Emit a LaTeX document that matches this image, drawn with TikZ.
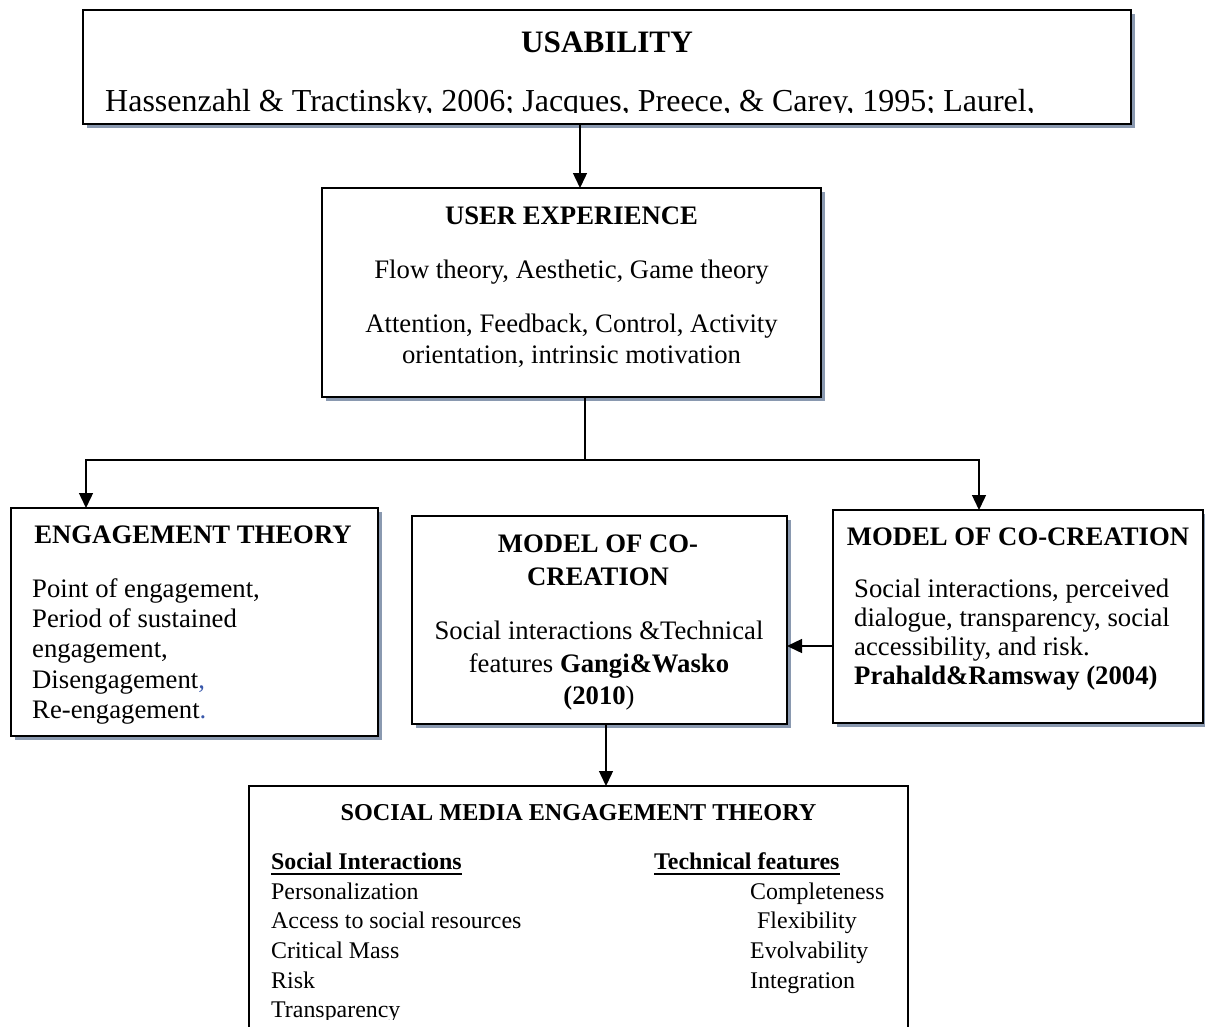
\documentclass[tikz,border=0pt]{standalone}
\usepackage{fontspec}
\setmainfont{Liberation Serif}
\usetikzlibrary{arrows.meta,shadows}
\definecolor{shad}{RGB}{138,153,176}
\definecolor{punct}{RGB}{56,87,170}
\tikzset{
  box/.style={draw=black, line width=2.2pt, fill=white, inner sep=0pt, outer sep=0pt, rectangle},
  shbox/.style={box, drop shadow={shadow xshift=3.5pt, shadow yshift=-3.5pt, fill=shad, opacity=1}},
  head/.style={anchor=base, inner sep=0pt, font=\fontsize{26.7}{31}\selectfont\bfseries},
  bodyc/.style={anchor=base, inner sep=0pt, font=\fontsize{26.7}{31}\selectfont},
  bodyl/.style={anchor=base west, inner sep=0pt, font=\fontsize{26.7}{31}\selectfont},
  smallt/.style={anchor=base west, inner sep=0pt, font=\fontsize{23.9}{28}\selectfont},
  smallh/.style={anchor=base west, inner sep=0pt, font=\fontsize{23.9}{28}\selectfont\bfseries},
  arr/.style={line width=1.4pt, -{Triangle[length=15pt,width=14pt]}},
  conn/.style={line width=1.2pt},
  uline/.style={line width=1.5pt}
}
\begin{document}
\begin{tikzpicture}[x=1pt,y=-1pt]
\clip (0,0) rectangle (1205,1026);
\fill[white] (0,0) rectangle (1205,1026);

% ---------- USABILITY ----------
\node[shbox, minimum width=1048pt, minimum height=114pt] (us) at (607,67) {};
\node[anchor=base, inner sep=0pt, font=\fontsize{31.2}{36}\selectfont\bfseries] (ust) at (607,52) {USABILITY};
\begin{scope}
  \clip (83,10) rectangle (1131,112.5);
  \node[anchor=base west, inner sep=0pt, font=\fontsize{32}{36}\selectfont] (usc) at (105,111)
    {Hassenzahl \& Tractinsky, 2006; Jacques, Preece, \& Carey, 1995; Laurel,};
\end{scope}

% ---------- USER EXPERIENCE ----------
\node[shbox, minimum width=499pt, minimum height=209pt] (ux) at (571.5,292.5) {};
\node[head] (uxt) at (571.5,224) {USER EXPERIENCE};
\node[bodyc] (ux1) at (571.5,278) {Flow theory, Aesthetic, Game theory};
\node[bodyc] (ux2) at (571.5,332) {Attention, Feedback, Control, Activity};
\node[bodyc] (ux3) at (571.5,363) {orientation, intrinsic motivation};

% ---------- ENGAGEMENT THEORY ----------
\node[shbox, minimum width=367pt, minimum height=228pt] (eng) at (194.5,622) {};
\node[head] (engt) at (193,543) {ENGAGEMENT THEORY};
\node[bodyl] (eng1) at (32,597) {Point of engagement,};
\node[bodyl] (eng2) at (32,627.3) {Period of sustained};
\node[bodyl] (eng3) at (32,657.6) {engagement,};
\node[bodyl] (eng4) at (32,688) {Disengagement{\color{punct},}};
\node[bodyl] (eng5) at (32,718) {Re-engagement{\color{punct}.}};

% ---------- MODEL OF CO-CREATION (middle) ----------
\node[shbox, minimum width=375pt, minimum height=208pt] (mid) at (599.5,620) {};
\node[head] (midt1) at (598,552) {MODEL OF CO-};
\node[head] (midt2) at (598,585) {CREATION};
\node[bodyc] (mid1) at (599,639) {Social interactions \&Technical};
\node[bodyc] (mid2) at (599,672) {features \textbf{Gangi\&Wasko}};
\node[bodyc] (mid3) at (599,704) {\textbf{(2010})};

% ---------- MODEL OF CO-CREATION (right) ----------
\node[shbox, minimum width=370pt, minimum height=213pt] (rgt) at (1018,616.5) {};
\node[head] (rgtt) at (1018,545) {MODEL OF CO-CREATION};
\node[bodyl] (rgt1) at (854,597) {Social interactions, perceived};
\node[bodyl] (rgt2) at (854,626) {dialogue, transparency, social};
\node[bodyl] (rgt3) at (854,655) {accessibility, and risk.};
\node[bodyl, font=\fontsize{26.7}{31}\selectfont\bfseries] (rgt4) at (854,684) {Prahald\&Ramsway (2004)};

% ---------- SOCIAL MEDIA ENGAGEMENT THEORY ----------
\node[box, minimum width=659pt, minimum height=274pt] (bot) at (578.5,923) {};
\node[anchor=base, inner sep=0pt, font=\fontsize{24.2}{28}\selectfont\bfseries] (bott) at (578.5,820) {SOCIAL MEDIA ENGAGEMENT THEORY};
\node[smallh] (si) at (271,869) {Social Interactions};
\draw[uline] ([yshift=-5pt]si.base west) -- ([yshift=-5pt]si.base east);
\node[smallh] (tf) at (654,869) {Technical features};
\draw[uline] ([yshift=-5pt]tf.base west) -- ([yshift=-5pt]tf.base east);
\node[smallt] (s1) at (271,899) {Personalization};
\node[smallt] (s2) at (271,928) {Access to social resources};
\node[smallt] (s3) at (271,958) {Critical Mass};
\node[smallt] (s4) at (271,988) {Risk};
\begin{scope}
  \clip (249,990) rectangle (908,1019);
  \node[smallt] (s5) at (271,1017) {Transparency};
\end{scope}
\node[smallt] (t1) at (750,899) {Completeness};
\node[smallt] (t2) at (757,928) {Flexibility};
\node[smallt] (t3) at (750,958) {Evolvability};
\node[smallt] (t4) at (750,988) {Integration};

% ---------- connectors ----------
\coordinate (a1) at (580,0);
\draw[arr] (us.south -| a1) -- (ux.north -| a1);

\coordinate (j) at (585,460);
\coordinate (jl) at (86,460);
\coordinate (jr) at (979,460);
\draw[conn] (ux.south -| j) -- (j);
\draw[arr] (j) -| (eng.north -| jl);
\draw[arr] (j) -| (rgt.north -| jr);

\coordinate (h) at (0,646);
\draw[arr] (rgt.west |- h) -- (mid.east |- h);

\coordinate (v) at (606,0);
\draw[arr] (mid.south -| v) -- (bot.north -| v);
\end{tikzpicture}
\end{document}
